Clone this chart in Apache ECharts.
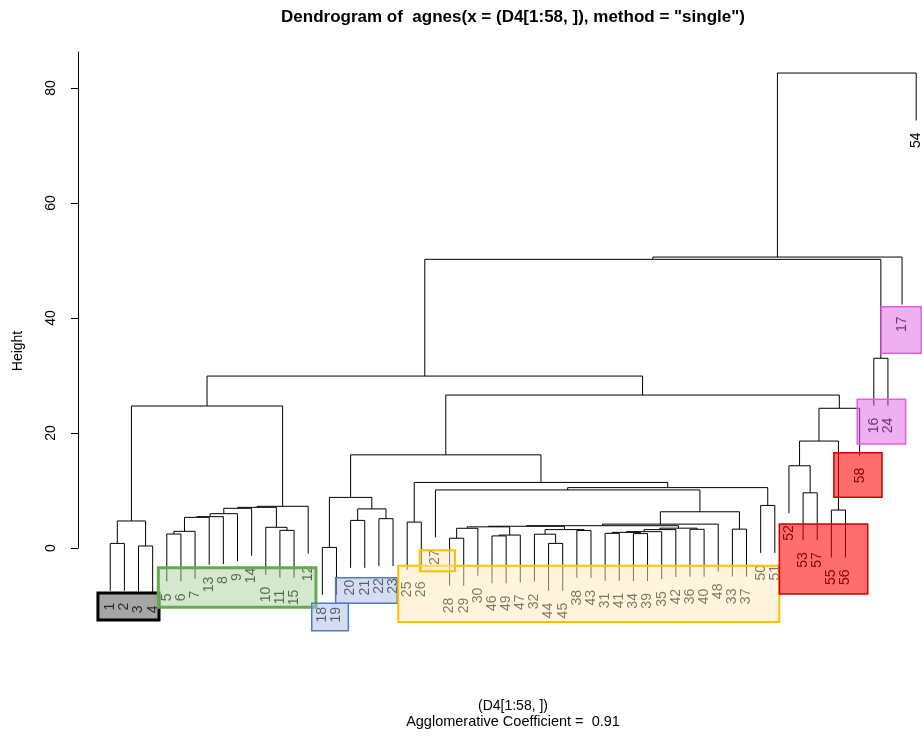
<!DOCTYPE html>
<html>
<head>
<meta charset="utf-8">
<script src="https://cdn.jsdelivr.net/npm/echarts@6/dist/echarts.min.js"></script>
<style>
html, body { margin: 0; padding: 0; background: #ffffff; }
#chart { width: 922px; height: 740px; }
</style>
</head>
<body>
<div id="chart"></div>
<script>
// Observation ids in the order the dendrogram places them, left to right
const leafOrder = [1, 2, 3, 4, 5, 6, 7, 13, 8, 9, 14, 10, 11, 15, 12, 18, 19, 20, 21, 22, 23,
  25, 26, 27, 28, 29, 30, 46, 49, 47, 32, 44, 45, 38, 43, 31, 41, 34, 39, 35, 42, 36, 40, 48,
  33, 37, 50, 51, 52, 53, 57, 55, 56, 58, 16, 24, 17, 54];

// Agglomeration steps: a negative entry is an observation, a positive one an earlier step (1-based)
const mergeA = [-18, -3, -44, -1, -28, -46, 6, -32, -5, -34, -31, 11, 12, 9, -38, -11, 8, 13, -36, -33,
  5, 18, -10, 21, 24, 25, 26, -25, 4, -20, -22, 14, 32, 33, 27, -55, 30, 34, 38, 39,
  -50, 1, -53, -27, 44, 28, -52, 42, 47, 49, 29, 48, 51, -16, 53, 55, 56];
const mergeB = [-19, -4, -45, -2, -29, -49, -47, 3, -6, -39, -41, 10, -35, -7, -43, -15, 15, -42, -40, -37,
  -30, 19, 16, 7, 17, 22, -48, -26, 2, -21, -23, -13, -8, -9, 20, -56, 31, -14, 23, -12,
  -51, 37, -57, 35, 41, 45, 43, 46, 36, -58, 40, 50, 52, -24, 54, -17, -54];
const mergeHeight = [0.1, 0.35, 0.8, 0.8, 1.7, 2.1, 2.25, 2.4, 2.43, 2.5, 2.55, 2.72, 2.84, 2.9, 3.05, 3.07, 3.2, 3.2, 3.25, 3.28,
  3.43, 3.45, 3.6, 3.68, 3.78, 3.88, 4.15, 4.5, 4.7, 4.8, 5.1, 5.33, 5.45, 5.97, 6.3, 6.6, 6.8, 6.9, 7.07, 7.25,
  7.4, 8.8, 9.6, 10.1, 10.5, 11.4, 14.3, 16.2, 18.6, 24.3, 24.7, 26.6, 29.9, 33.0, 50.2, 50.6, 82.6];

const heightTicks = [0, 20, 40, 60, 80];
const agglomerativeCoefficient = 0.91;

// Highlighted groups of labels (observation ids)
const groupMembers = [
  [1, 2, 3, 4],
  [5, 6, 7, 13, 8, 9, 14, 10, 11, 15, 12],
  [18, 19],
  [20, 21, 22, 23],
  [25, 26, 28, 29, 30, 46, 49, 47, 32, 44, 45, 38, 43, 31, 41, 34, 39, 35, 42, 36, 40, 48, 33, 37, 50, 51],
  [27],
  [52, 53, 57, 55, 56],
  [58],
  [16, 24],
  [17]
];

// ---- layout / style settings ----
const HANG = 8.25;              // how far each leaf drops below its merge
const LABEL_GAP = 12;           // px between a leaf end and its label
// frame drawn round each highlighted group (x in leaf units, y in height units)
const groupFrames = [
  { x0: 0.13, x1: 4.45, y0: -12.52, y1: -7.83, fill: 'rgba(77,77,77,0.5)', stroke: '#000000', w: 3 },
  { x0: 4.40, x1: 15.55, y0: -10.31, y1: -3.43, fill: 'rgba(170,210,155,0.5)', stroke: '#6aa84f', w: 3 },
  { x0: 15.25, x1: 17.84, y0: -14.38, y1: -9.62, fill: 'rgba(170,190,225,0.5)', stroke: '#4a7cc7', w: 1.5 },
  { x0: 16.94, x1: 21.30, y0: -9.62, y1: -5.17, fill: 'rgba(170,190,225,0.5)', stroke: '#4a7cc7', w: 1.5 },
  { x0: 21.37, x1: 48.32, y0: -12.87, y1: -3.08, fill: 'rgba(255,235,190,0.5)', stroke: '#ffc000', w: 2 },
  { x0: 22.89, x1: 25.38, y0: -4.05, y1: -0.40, fill: 'rgba(255,235,190,0.5)', stroke: '#ffc000', w: 2 },
  { x0: 48.32, x1: 54.57, y0: -8.00, y1: 4.17, fill: 'rgba(255,0,0,0.57)', stroke: '#c80000', w: 1.5 },
  { x0: 52.18, x1: 55.58, y0: 8.82, y1: 16.57, fill: 'rgba(255,0,0,0.57)', stroke: '#c80000', w: 1.5 },
  { x0: 53.83, x1: 57.25, y0: 18.09, y1: 25.86, fill: 'rgba(221,97,221,0.5)', stroke: '#e060e0', w: 1.5 },
  { x0: 55.53, x1: 58.36, y0: 33.86, y1: 41.97, fill: 'rgba(221,97,221,0.5)', stroke: '#e060e0', w: 1.5 }
];

// ---- build the tree geometry from the merge steps ----
const leafPos = {};
leafOrder.forEach((id, i) => { leafPos[id] = i + 1; });
const nodeX = [];
const leafEnd = {};
const links = [];   // [xLeft, yLeftBottom, xRight, yRightBottom, mergeHeight]
for (let i = 0; i < mergeHeight.length; i++) {
  const h = mergeHeight[i];
  const ends = [mergeA[i], mergeB[i]].map(c => {
    if (c < 0) {
      leafEnd[-c] = h - HANG;
      return [leafPos[-c], h - HANG];
    }
    return [nodeX[c - 1], mergeHeight[c - 1]];
  });
  nodeX[i] = (ends[0][0] + ends[1][0]) / 2;
  links.push([ends[0][0], ends[0][1], ends[1][0], ends[1][1], h]);
}
const leafData = leafOrder.map(id => [leafPos[id], leafEnd[id]]);
const frameData = groupFrames.map(f => [f.x0, f.y0, f.x1, f.y1]);

const FONT = '"Liberation Sans", Arial, Helvetica, sans-serif';
const chart = echarts.init(document.getElementById('chart'), null, { renderer: 'canvas' });

chart.setOption({
  animation: false,
  backgroundColor: '#ffffff',
  grid: { left: 78, right: 0, top: 52, bottom: 192, outerBoundsMode: 'none' },
  xAxis: {
    type: 'value', min: -1.28, max: 58.41, show: false
  },
  yAxis: {
    type: 'value', min: 0, max: 86.26, interval: 20,
    axisLine: { show: true, onZero: false, lineStyle: { color: '#000', width: 1 } },
    axisTick: { show: true, length: 7, lineStyle: { color: '#000' } },
    axisLabel: {
      rotate: 90, margin: 20, showMaxLabel: false,
      color: '#000', fontSize: 14, fontFamily: FONT,
      formatter: v => (heightTicks.indexOf(v) >= 0 ? String(v) : '')
    },
    splitLine: { show: false }
  },
  graphic: [
    { type: 'text', x: 513, y: 17, style: { text: 'Dendrogram of  agnes(x = (D4[1:58, ]), method = "single")', font: 'bold 17px ' + FONT, textAlign: 'center', textVerticalAlign: 'middle', fill: '#000' } },
    { type: 'text', x: 513, y: 706, style: { text: '(D4[1:58, ])', font: '14px ' + FONT, textAlign: 'center', textVerticalAlign: 'middle', fill: '#000' } },
    { type: 'text', x: 513, y: 722, style: { text: 'Agglomerative Coefficient =  ' + agglomerativeCoefficient.toFixed(2), font: '14.5px ' + FONT, textAlign: 'center', textVerticalAlign: 'middle', fill: '#000' } },
    { type: 'text', x: 18, y: 351, rotation: Math.PI / 2, style: { text: 'Height', font: '14px ' + FONT, textAlign: 'center', textVerticalAlign: 'middle', fill: '#000' } }
  ],
  series: [
    {
      type: 'custom', name: 'links', clip: false, z: 2,
      data: links,
      encode: { x: [0, 2], y: [1, 3, 4] },
      renderItem: (params, api) => {
        const p1 = api.coord([api.value(0), api.value(1)]);
        const p2 = api.coord([api.value(0), api.value(4)]);
        const p3 = api.coord([api.value(2), api.value(4)]);
        const p4 = api.coord([api.value(2), api.value(3)]);
        return {
          type: 'polyline', shape: { points: [p1, p2, p3, p4] },
          style: { stroke: '#000', lineWidth: 1, fill: null }
        };
      }
    },
    {
      type: 'custom', name: 'labels', clip: false, z: 3,
      data: leafData,
      encode: { x: 0, y: 1 },
      renderItem: (params, api) => {
        const p = api.coord([api.value(0), api.value(1)]);
        return {
          type: 'text', x: p[0], y: p[1] + LABEL_GAP, rotation: Math.PI / 2,
          style: {
            text: String(leafOrder[params.dataIndex]), font: '14px ' + FONT,
            textAlign: 'right', textVerticalAlign: 'middle', fill: '#000'
          }
        };
      }
    },
    {
      type: 'custom', name: 'groups', clip: false, z: 4,
      data: frameData,
      encode: { x: [0, 2], y: [1, 3] },
      renderItem: (params, api) => {
        const f = groupFrames[params.dataIndex];
        const a = api.coord([api.value(0), api.value(3)]);
        const b = api.coord([api.value(2), api.value(1)]);
        return {
          type: 'rect', shape: { x: a[0], y: a[1], width: b[0] - a[0], height: b[1] - a[1] },
          style: { fill: f.fill, stroke: f.stroke, lineWidth: f.w }
        };
      }
    }
  ]
});
</script>
</body>
</html>
